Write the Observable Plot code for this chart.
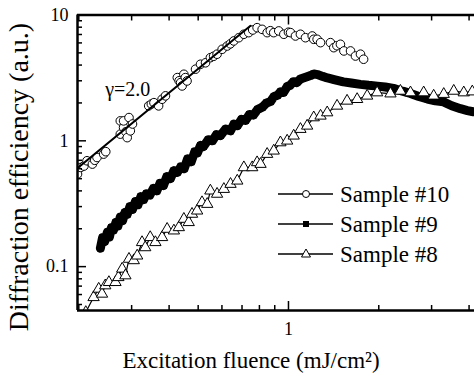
<!DOCTYPE html>
<html><head><meta charset="utf-8">
<script src="https://cdn.jsdelivr.net/npm/d3@7"></script>
<script src="https://cdn.jsdelivr.net/npm/@observablehq/plot@0.6"></script>
<style>
body{margin:0;background:#fff;}
#chart{position:relative;width:474px;height:376px;overflow:hidden;}
</style></head><body><div id="chart"></div>
<script>
// ---- data ----
const xLabel = "Excitation fluence (mJ/cm²)";
const yLabel = "Diffraction efficiency (a.u.)";
const fitLabel = "γ=2.0";
const seriesNames = ["Sample #10", "Sample #9", "Sample #8"];
const xDomain = [0.198, 4.17];
const yDomain = [0.0448, 10];
const xMajor = [1];
const xMinor = [0.2,0.3,0.4,0.5,0.6,0.7,0.8,0.9,2,3,4];
const yMajor = [0.1, 1, 10];
const yMinor = [0.05,0.06,0.07,0.08,0.09,0.2,0.3,0.4,0.5,0.6,0.7,0.8,0.9,2,3,4,5,6,7,8,9];

// Sample #10 (open circles)
const s10x = [0.198,0.203,0.208,0.213,0.222,0.226,0.230,0.242,0.246,
  0.275,0.275,0.282,0.282,0.287,0.290,0.294,0.297,0.302,
  0.342,0.349,0.356,0.369,0.379,0.389,
  0.426,0.432,0.437,0.442,0.448,0.453,0.459,
  0.490,0.509,0.529,0.549,0.563,0.578,0.601,0.625,0.640,0.657,0.683,0.710,0.737,0.760,
  0.786,0.817,0.849,0.870,0.893,0.928,0.965,1.000,1.016,1.055,1.096,1.139,1.200,1.214,1.246,
  1.279,1.380,1.416,1.450,1.490,1.530,1.610,1.672,1.738,1.780];
const s10y = [0.544,0.614,0.630,0.694,0.653,0.700,0.737,0.784,0.820,
  1.13,1.44,1.275,1.44,1.18,1.06,1.53,1.20,1.36,
  1.895,1.96,2.01,1.895,2.14,2.277,
  3.18,3.00,2.90,2.73,3.38,3.18,2.99,
  3.71,4.06,4.17,4.58,4.70,4.88,5.34,5.67,5.90,6.22,6.60,7.03,7.24,7.60,
  7.93,7.69,7.24,7.50,7.24,7.47,7.03,7.30,7.24,6.81,7.03,6.60,6.81,6.41,6.41,
  6.03,6.03,5.50,5.70,5.85,5.18,5.18,4.72,4.88,4.45];
// gamma = 2.0 fit line end points
const fitX = [0.197, 0.747];
const fitY = [0.60, 8.2];

// Sample #9 (filled squares)
const s9x = [0.236,0.240,0.244,0.249,0.253,0.257,0.261,0.266,0.270,0.275,0.280,0.285,0.290,0.296,0.302,
  0.309,0.315,0.322,0.329,0.336,0.345,0.355,0.364,0.373,0.383,0.393,0.404,0.415,0.426,0.437,0.449,
  0.461,0.474,0.487,0.497,0.509,0.521,0.540,0.558,0.575,0.593,0.617,0.641,0.658,0.676,0.697,0.719,
  0.741,0.764,0.790,0.819,0.845,0.871,0.895,0.919,0.940,0.962,0.990,1.010,1.039,1.066,1.096,1.140,
  1.184,1.215,1.249,1.300,1.349,1.430,1.525,1.620,1.738,1.850,1.980,2.100,2.239,2.400,2.551,2.720,
  2.906,3.090,3.286,3.500,3.744,3.950,4.137];
const s9y = [0.140,0.170,0.158,0.188,0.172,0.205,0.195,0.225,0.210,0.248,0.232,0.270,0.260,0.300,0.285,
  0.330,0.310,0.360,0.340,0.380,0.370,0.420,0.400,0.460,0.440,0.520,0.500,0.580,0.560,0.620,0.600,
  0.720,0.680,0.820,0.800,0.920,0.900,1.020,1.000,1.120,1.100,1.240,1.200,1.360,1.320,1.480,1.450,
  1.620,1.600,1.780,1.850,2.000,2.050,2.250,2.300,2.450,2.420,2.700,2.750,2.950,2.900,3.100,3.200,
  3.300,3.400,3.360,3.250,3.160,3.050,2.940,2.880,2.810,2.760,2.720,2.680,2.610,2.480,2.380,2.250,
  2.150,2.080,2.040,1.900,1.800,1.740,1.700];

// Sample #8 (open triangles)
const s8x = [0.211,0.224,0.233,0.239,0.245,0.252,0.265,0.271,0.279,0.286,0.294,0.305,0.313,0.325,0.333,
  0.346,0.360,0.379,0.394,0.415,0.431,0.448,0.465,0.477,0.496,0.515,0.536,0.549,0.578,0.609,0.641,
  0.675,0.710,0.757,0.786,0.807,0.849,0.893,0.940,0.990,1.041,1.096,1.154,1.214,1.279,1.346,1.452,
  1.568,1.694,1.829,1.975,2.188,2.361,2.551,2.823,3.048,3.293,3.556,3.840,4.100];
const s8y = [0.0434,0.057,0.0665,0.0607,0.0707,0.0751,0.0751,0.0822,0.096,0.0849,0.115,0.112,0.122,0.156,0.142,
  0.171,0.156,0.171,0.199,0.193,0.205,0.239,0.225,0.262,0.278,0.324,0.314,0.401,0.378,0.413,0.453,
  0.481,0.614,0.614,0.673,0.653,0.784,0.833,0.969,1.000,1.096,1.238,1.315,1.531,1.579,1.677,1.895,
  2.077,2.140,2.277,2.417,2.370,2.490,2.417,2.417,2.277,2.350,2.490,2.417,2.460];

// ---- chart ----
const FONT = "Liberation Serif";
const AX = 2.5;
const chart = Plot.plot({
  width: 474, height: 376,
  marginLeft: 77, marginRight: 0, marginTop: 14.5, marginBottom: 66,
  style: {background: "white", color: "black"},
  x: {type: "log", domain: xDomain, label: null},
  y: {type: "log", domain: yDomain, label: null},
  marks: [
    Plot.dot(s10x, {x: s10x, y: s10y, symbol: "circle", r: 4.3, fill: "white", stroke: "black", strokeWidth: 1, clip: true}),
    Plot.line(fitX, {x: fitX, y: fitY, stroke: "black", strokeWidth: 2, clip: true}),
    Plot.line(s9x, {x: s9x, y: s9y, stroke: "black", strokeWidth: 9, clip: true}),
    Plot.dot(s9x, {x: s9x, y: s9y, symbol: "square", r: 3.8, fill: "black", clip: true}),
    Plot.line(s8x, {x: s8x, y: s8y, stroke: "black", strokeWidth: 1.2, clip: true}),
    Plot.dot(s8x, {x: s8x, y: s8y, symbol: "triangle", r: 4.2, fill: "white", stroke: "black", strokeWidth: 1, clip: true}),
    Plot.text([fitLabel], {x: [0.245], y: [2.28], text: d => d, textAnchor: "start", lineAnchor: "bottom", fontSize: 20}),
    // frame
    Plot.ruleY([yDomain[0]], {strokeWidth: AX}),
    Plot.ruleY([yDomain[1]], {strokeWidth: AX}),
    Plot.ruleX([xDomain[0]], {strokeWidth: AX}),
    // inward ticks
    Plot.axisX({anchor: "bottom", ticks: xMinor, tickSize: 5, dy: -5, tickFormat: () => "", strokeWidth: 1.5, label: null}),
    Plot.axisX({anchor: "bottom", ticks: xMajor, tickSize: 9, dy: -9, tickFormat: () => "", strokeWidth: 1.5, label: null}),
    Plot.axisX({anchor: "top", ticks: xMinor, tickSize: 5, dy: 5, tickFormat: () => "", strokeWidth: 1.5, label: null}),
    Plot.axisX({anchor: "top", ticks: xMajor, tickSize: 9, dy: 9, tickFormat: () => "", strokeWidth: 1.5, label: null}),
    Plot.axisY({anchor: "left", ticks: yMinor, tickSize: 5, dx: 5, tickFormat: () => "", strokeWidth: 1.5, label: null}),
    Plot.axisY({anchor: "left", ticks: yMajor, tickSize: 9, dx: 9, tickFormat: () => "", strokeWidth: 1.5, label: null}),
    // tick labels
    Plot.axisX({anchor: "bottom", ticks: xMajor, tickSize: 0, tickPadding: 12, tickFormat: d => String(d), fontSize: 18, label: null}),
    Plot.axisY({anchor: "left", ticks: yMajor, tickSize: 0, tickPadding: 9, tickFormat: d => String(d), fontSize: 18, label: null})
  ]
});
document.getElementById("chart").appendChild(chart);

// axis titles and legend
const svg = d3.select(chart);
svg.append("text").attr("x", 251).attr("y", 368).attr("text-anchor", "middle")
  .attr("font-size", 23).attr("fill", "black").text(xLabel);
svg.append("text").attr("transform", "translate(28,177) rotate(-90)").attr("text-anchor", "middle")
  .attr("font-size", 28).attr("fill", "black").text(yLabel);

const lg = svg.append("g");
const legendY = [194, 224, 254];
seriesNames.forEach((name, i) => {
  const y = legendY[i];
  lg.append("line").attr("x1", 278).attr("x2", 333).attr("y1", y).attr("y2", y).attr("stroke", "black").attr("stroke-width", 1.5);
  if (i === 0) lg.append("circle").attr("cx", 306).attr("cy", y).attr("r", 3.5).attr("fill", "white").attr("stroke", "black");
  if (i === 1) lg.append("rect").attr("x", 303).attr("y", y - 3).attr("width", 6).attr("height", 6).attr("fill", "black");
  if (i === 2) lg.append("path").attr("d", `M${306},${y-5}L${310.5},${y+3}L${301.5},${y+3}Z`).attr("fill", "white").attr("stroke", "black");
  lg.append("text").attr("x", 340).attr("y", y).attr("dy", "0.35em").attr("text-anchor", "start")
    .attr("font-size", 23).attr("fill", "black").text(name);
});
// serif font on every text element
svg.attr("font-family", FONT);
svg.selectAll("text").attr("font-family", FONT);
</script>
</body></html>
